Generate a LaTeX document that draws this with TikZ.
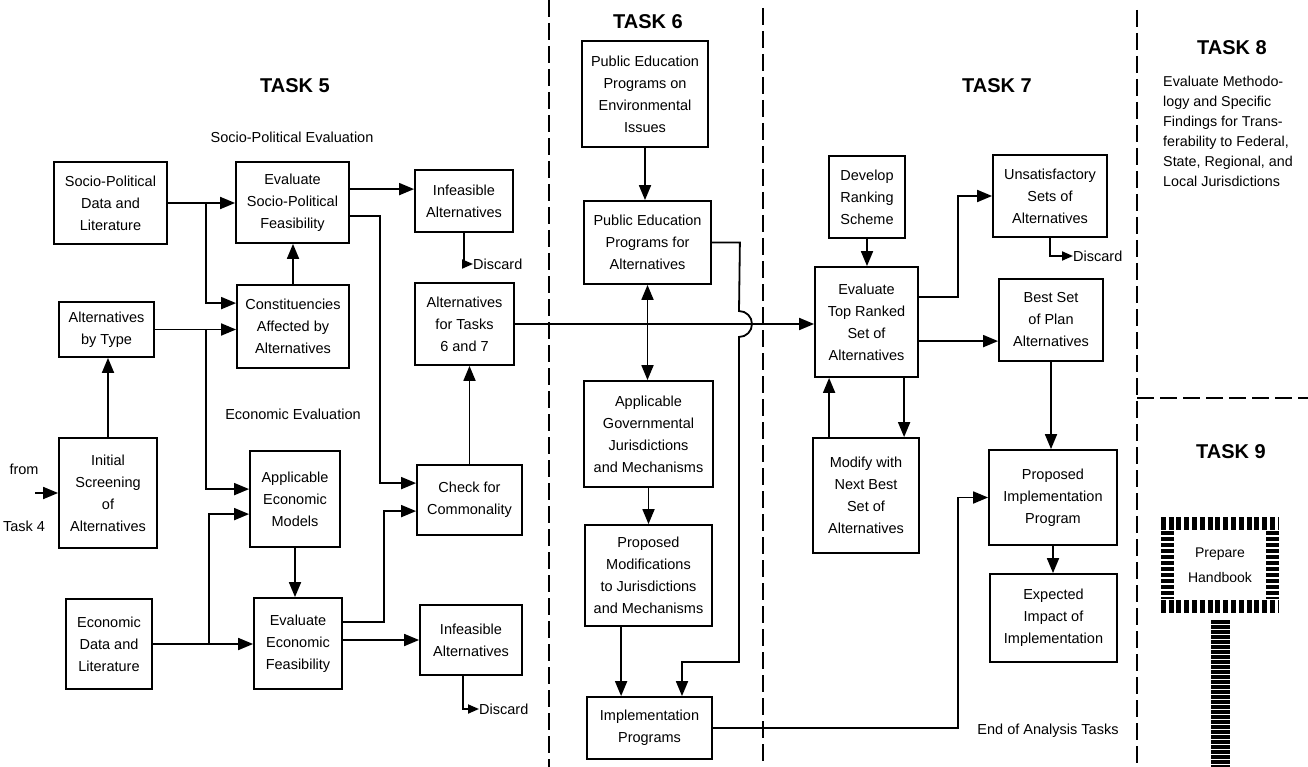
\documentclass[tikz,border=0pt]{standalone}
\usepackage{fontspec}
\setmainfont{Liberation Sans}
\usetikzlibrary{arrows.meta,calc}

% box given by its corners (x1,y1) and (x2,y2), y measured downwards
\newcommand\flowbox[6]{\node[box, minimum width={#4-#2}, minimum height={#5-#3}] (#1) at ({(#2+#4)/2},{(#3+#5)/2}) {#6};}

\tikzset{
  box/.style={draw, line width=1.8pt, inner sep=0pt, align=center,
    font=\fontsize{14.5}{22}\selectfont},
  lbl/.style={inner sep=0pt, font=\fontsize{14.5}{22}\selectfont},
  tasktitle/.style={inner sep=0pt, font=\fontsize{20}{24}\selectfont\bfseries},
  arr/.style={line width=1.8pt, -{Triangle[length=15pt,width=12pt]}},
  arrs/.style={line width=1.8pt, -{Triangle[length=11pt,width=9pt]}},
  dbl/.style={line width=1.8pt, {Triangle[length=15pt,width=12pt]}-{Triangle[length=15pt,width=12pt]}},
  sep/.style={line width=1.3pt, dash pattern=on 17pt off 6pt},
  hatchrow/.style={line width=13pt, dash pattern=on 5pt off 2.8pt},
  hatchcol/.style={line width=13pt, dash pattern=on 4pt off 2pt},
}

\begin{document}
\begin{tikzpicture}[x=1pt,y=-1pt]
\useasboundingbox (0,0) rectangle (1308,767);

% ---------- task separators ----------
\draw[sep] (549,0) -- (549,767);
\draw[sep] (763,8) -- (763,767);
\draw[sep] (1137,10) -- (1137,767);
\draw[sep] (1137,398) -- (1308,398);

% ---------- titles ----------
\node[tasktitle] (t5) at (295,86) {TASK 5};
\node[tasktitle] (t6) at (648,22) {TASK 6};
\node[tasktitle] (t7) at (997,86) {TASK 7};
\node[tasktitle] (t8) at (1232,48) {TASK 8};
\node[tasktitle] (t9) at (1231,452) {TASK 9};

\node[lbl] (spe) at (292,137) {Socio-Political Evaluation};
\node[lbl] (ece) at (293,414) {Economic Evaluation};
\node[lbl] (end) at (1048,731) {End of Analysis Tasks};

\node[inner sep=0pt, anchor=north west, align=left,
  font=\fontsize{14.3}{20}\selectfont] (t8txt) at (1163,76)
  {Evaluate Methodo-\\logy and Specific\\Findings for Trans-\\ferability to Federal,\\State, Regional, and\\Local Jurisdictions};

% ---------- task 5 ----------
\flowbox{spd}{54}{162}{167}{244}{Socio-Political\\Data and\\Literature}
\flowbox{esp}{236}{162}{349}{243}{Evaluate\\Socio-Political\\Feasibility}
\flowbox{con}{237}{285}{349}{368}{Constituencies\\Affected by\\Alternatives}
\flowbox{abt}{59}{302}{154}{357}{Alternatives\\by Type}
\flowbox{inf1}{415}{170}{513}{232}{Infeasible\\Alternatives}
\flowbox{aft}{415}{283}{514}{365}{Alternatives\\for Tasks\\6 and 7}
\flowbox{isa}{59}{438}{157}{548}{Initial\\Screening\\of\\Alternatives}
\flowbox{aem}{250}{451}{340}{547}{Applicable\\Economic\\Models}
\flowbox{eef}{254}{598}{342}{689}{Evaluate\\Economic\\Feasibility}
\flowbox{edl}{66}{599}{152}{689}{Economic\\Data and\\Literature}
\flowbox{chk}{417}{465}{522}{535}{Check for\\Commonality}
\flowbox{inf2}{420}{605}{522}{675}{Infeasible\\Alternatives}

\node[lbl, anchor=west] (d1) at (473,264) {Discard};
\node[lbl, anchor=west] (d2) at (479,709) {Discard};
\node[lbl] (from) at (24,469) {from};
\node[lbl] (tk4) at (24,526) {Task 4};
\coordinate (t4) at (35,493);

\coordinate (j1) at (206,203);
\coordinate (j2) at (206,329.5);
\coordinate (j3) at (209,644);

\draw[arr] (spd.east) -- (spd.east -| esp.west);
\draw[arr] (j1) |- ($(con.north west)+(0,19)$);
\draw[arr] (abt.east) -- (abt.east -| con.west);
\draw[arr] (j2) |- ($(aem.north west)+(0,39)$);
\draw[arr] (con.north) -- (con.north |- esp.south);
\draw[arr] (isa.north) -- (isa.north |- abt.south);
\draw[arr] (t4) -- (isa.west);

\path ($(esp.north east)+(0,28)$) coordinate (e1);
\draw[arr] (e1) -- (e1 -| inf1.west);
\path ($(esp.north east)+(0,55)$) coordinate (e2);
\draw[arr] (e2) -- ++(30,0) |- ($(chk.north west)+(0,19)$);
\path ($(eef.north east)+(0,25)$) coordinate (e3);
\draw[arr] (e3) -- ++(41,0) |- ($(chk.north west)+(0,47)$);
\draw[arr] (eef.east |- inf2.west) -- (inf2.west);
\draw[arr] (edl.east) -- (edl.east -| eef.west);
\draw[arr] (j3) |- ($(aem.north west)+(0,64)$);
\draw[arr] (aem.south) -- (aem.south |- eef.north);
\draw[arr] (chk.north) -- (chk.north |- aft.south);
\draw[arrs] (inf1.south) |- (d1.west);
\path ($(inf2.south west)+(44,0)$) coordinate (e4);
\draw[arrs] (e4) |- (d2.west);

% ---------- task 6 ----------
\flowbox{pe1}{582}{41}{708}{147}{Public Education\\Programs on\\Environmental\\Issues}
\flowbox{pe2}{584}{201}{711}{284}{Public Education\\Programs for\\Alternatives}
\flowbox{agj}{584}{381}{713}{487}{Applicable\\Governmental\\Jurisdictions\\and Mechanisms}
\flowbox{pmj}{585}{525}{712}{626}{Proposed\\Modifications\\to Jurisdictions\\and Mechanisms}
\flowbox{imp}{587}{697}{712}{759}{Implementation\\Programs}

\draw[arr] (pe1.south) -- (pe1.south |- pe2.north);
\draw[dbl] (pe2.south) -- (pe2.south |- agj.north);
\draw[arr] (agj.south) -- (agj.south |- pmj.north);
\path ($(pmj.south west)+(37,0)$) coordinate (p1);
\draw[arr] (p1) -- (p1 |- imp.north);

% ---------- task 7 ----------
\flowbox{drs}{829}{156}{905}{238}{Develop\\Ranking\\Scheme}
\flowbox{etr}{815}{267}{918}{377}{Evaluate\\Top Ranked\\Set of\\Alternatives}
\flowbox{uns}{993}{155}{1107}{237}{Unsatisfactory\\Sets of\\Alternatives}
\flowbox{bsp}{999}{279}{1103}{361}{Best Set\\of Plan\\Alternatives}
\flowbox{mod}{813}{438}{919}{553}{Modify with\\Next Best\\Set of\\Alternatives}
\flowbox{pip}{989}{450}{1117}{545}{Proposed\\Implementation\\Program}
\flowbox{eii}{990}{574}{1117}{662}{Expected\\Impact of\\Implementation}
\node[lbl, anchor=west] (d3) at (1073,256) {Discard};

% alternatives passed on to task 7, crossing the task 6 column
\draw[arr] (aft.east) -- (aft.east -| etr.west);
% task 6 public education line hops over it
\coordinate (h1) at (682,662);
\draw[arr] (pe2.east) -- ++(28,0) -- (739,311)
  arc[start angle=90, end angle=-90, radius=13pt] -- (739,662) -- (h1)
  -- (h1 |- imp.north);

\draw[arr] (drs.south) -- (drs.south |- etr.north);
\path ($(etr.north east)+(0,31)$) coordinate (e5);
\draw[arr] (e5) -- ++(39,0) |- (uns.west);
\path ($(etr.north east)+(0,75)$) coordinate (e6);
\draw[arr] (e6) -- (e6 -| bsp.west);
\draw[arrs] (uns.south) |- (d3.west);
\draw[arr] (bsp.south) -- (bsp.south |- pip.north);
\draw[arr] (pip.south) -- (pip.south |- eii.north);
\path ($(mod.north west)+(17,0)$) coordinate (m1);
\draw[arr] (m1) -- (m1 |- etr.south);
\path ($(etr.south west)+(90,0)$) coordinate (m2);
\draw[arr] (m2) -- (m2 |- mod.north);
\draw[arr] (imp.east) -- ++(245,0) |- (pip.west);

% ---------- task 9 handbook ----------
\node[inner sep=0pt, align=center, font=\fontsize{14}{25}\selectfont,
  minimum width=118pt, minimum height=96pt] (hb) at (1220,565) {Prepare\\Handbook};
% hatched frame
\draw[hatchrow] ($(hb.north west)+(0,6.5)$) -- ($(hb.north east)+(0,6.5)$);
\draw[hatchrow] ($(hb.south west)+(0,-6.5)$) -- ($(hb.south east)+(0,-6.5)$);
\draw[hatchcol] ($(hb.north west)+(6.5,14)$) -- ($(hb.south west)+(6.5,-14)$);
\draw[hatchcol] ($(hb.north east)+(-6.5,14)$) -- ($(hb.south east)+(-6.5,-14)$);
% hatched stem
\path ($(hb.south)+(0,7)$) coordinate (st);
\draw[line width=19pt, dash pattern=on 3.5pt off 1.5pt] (st) -- (st |- 0,767);
\end{tikzpicture}
\end{document}
